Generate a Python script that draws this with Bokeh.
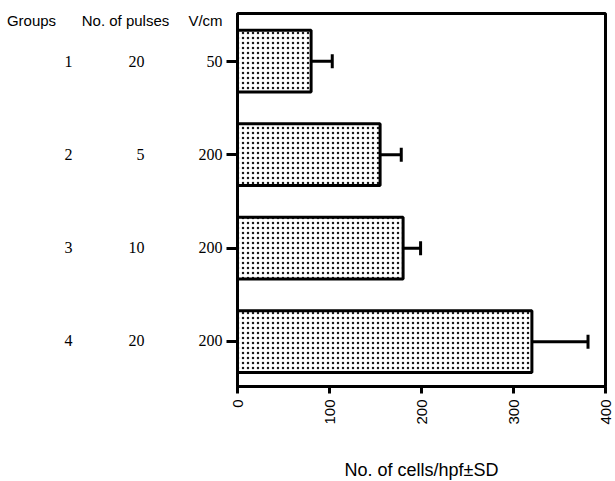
import math
from bokeh.plotting import figure
from bokeh.layouts import row
from bokeh.models import (ColumnDataSource, Range1d, FixedTicker, Whisker, TeeHead)
from bokeh.core.properties import value
from bokeh.embed import file_html
from bokeh.resources import INLINE

groups = ["1", "2", "3", "4"]
pulses = ["20", "5", "10", "20"]
vcm = ["50", "200", "200", "200"]
means = [80, 155, 180, 320]
sds = [23, 23, 19, 61]
x_ticks = [0, 100, 200, 300, 400]
headers = ["Groups", "No. of pulses", "V/cm"]

H = 481
W = 615
TOP, BOT = 13, 386          # frame top / bottom (px)
FRAME_L, FRAME_R = 237, 605
Y_TOP, Y_BOT = 0.49, 4.48   # category coordinate at frame top / bottom
LEFT_W = 225

pos = [1, 2, 3, 4]
src = ColumnDataSource(dict(
    y=pos, mean=means,
    lo=[m - s for m, s in zip(means, sds)],
    hi=[m + s for m, s in zip(means, sds)],
))

# ---------- main chart ----------
p = figure(frame_width=FRAME_R - FRAME_L, frame_height=BOT - TOP, align="start",
           title=None, output_backend="svg", toolbar_location=None,
           x_range=Range1d(0, 400), y_range=Range1d(Y_BOT, Y_TOP),
           min_border_left=FRAME_L - LEFT_W, min_border_top=TOP,
           min_border_right=W - FRAME_R, min_border_bottom=H - BOT)
p.background_fill_color = "white"
p.border_fill_color = "white"
p.outline_line_color = "black"
p.outline_line_width = 3
p.grid.visible = False

p.hbar(y="y", right="mean", left=0, height=0.66, source=src,
       fill_color="white", line_color="black", line_width=3,
       hatch_pattern="dot", hatch_color="#1a1a1a", hatch_scale=5, hatch_weight=1.8)

w = Whisker(source=src, base="y", lower="lo", upper="hi", dimension="width",
            line_color="black", line_width=3,
            lower_head=TeeHead(size=14, line_width=3, line_color="black"),
            upper_head=TeeHead(size=14, line_width=3, line_color="black"))
p.add_layout(w)

xa = p.xaxis[0]
xa.ticker = FixedTicker(ticks=x_ticks)
xa.minor_tick_line_color = None
xa.axis_line_width = 3
xa.major_tick_line_width = 3
xa.major_tick_out = 7
xa.major_tick_in = 0
xa.major_label_standoff = 6
xa.major_label_orientation = math.pi / 2
xa.major_label_text_font = "Liberation Sans"
xa.major_label_text_font_size = "15px"
xa.major_label_text_color = "black"
xa.axis_label = "No. of cells/hpf\u00b1SD"
xa.axis_label_text_font = "Liberation Sans"
xa.axis_label_text_font_style = "normal"
xa.axis_label_text_font_size = "18px"
xa.axis_label_text_color = "black"
xa.axis_label_standoff = 32

ya = p.yaxis[0]
ya.ticker = FixedTicker(ticks=pos)
ya.major_label_overrides = {i: "" for i in pos}
ya.major_label_text_font_size = "0px"
ya.major_label_standoff = 0
ya.minor_tick_line_color = None
ya.axis_line_width = 3
ya.major_tick_line_width = 3
ya.major_tick_out = 11
ya.major_tick_in = 0

# ---------- left table (Groups / No. of pulses / V/cm) ----------
# In the row, this plot's frame is aligned with the main frame (same top/bottom).
spacing = (BOT - TOP) / (Y_BOT - Y_TOP)
t = figure(width=LEFT_W, height=H, align="start", title=None,
           output_backend="svg", toolbar_location=None,
           x_axis_location=None, y_axis_location=None,
           x_range=Range1d(0, LEFT_W), y_range=Range1d(Y_BOT, Y_TOP),
           min_border=0, min_border_left=0, min_border_right=0,
           min_border_top=TOP, min_border_bottom=H - BOT)
t.grid.visible = False
t.outline_line_color = None
t.border_fill_color = "white"
t.background_fill_color = "white"

hdr_y = Y_TOP + (20 - TOP) / spacing
t.text(x=[31, 125, 205], y=[hdr_y] * 3, text=headers,
       text_align="center", text_baseline="middle",
       text_font=value("Liberation Sans"), text_font_size="15px", text_color="black")
t.text(x=[68] * 4, y=pos, text=groups, text_align="center", text_baseline="middle",
       text_font=value("Liberation Serif"), text_font_size="16px", text_color="black")
t.text(x=[144] * 4, y=pos, text=pulses, text_align="right", text_baseline="middle",
       text_font=value("Liberation Serif"), text_font_size="16px", text_color="black")
t.text(x=[222] * 4, y=pos, text=vcm, text_align="right", text_baseline="middle",
       text_font=value("Liberation Serif"), text_font_size="16px", text_color="black")

layout = row(t, p, spacing=0)
open("out.html", "w").write(file_html(layout, INLINE))
